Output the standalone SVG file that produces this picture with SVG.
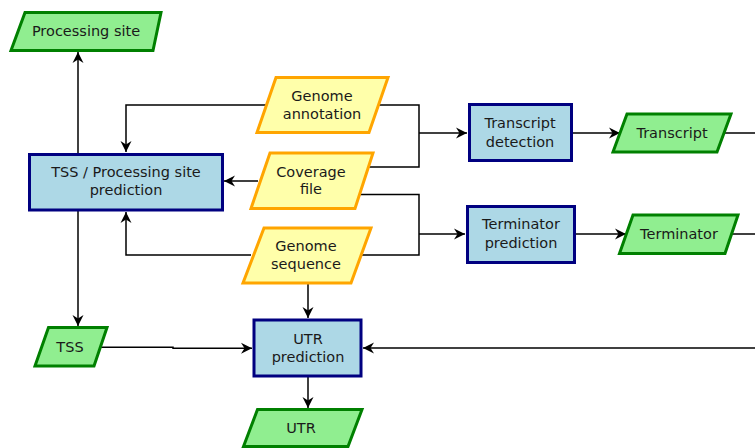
<svg xmlns="http://www.w3.org/2000/svg" width="755" height="448" viewBox="0 0 755 448">
<style>
  .proc { fill: #ADD8E6; stroke: #000080; stroke-width: 3; }
  .out { fill: #90EE90; stroke: #008000; stroke-width: 3; stroke-linejoin: miter; }
  .in { fill: #FFFFAA; stroke: #FFA500; stroke-width: 3; stroke-linejoin: miter; }
  text { font-family: "DejaVu Sans", Verdana, sans-serif; font-size: 14.5px; fill: #1a1a1a; text-anchor: middle; }
  .edge { fill: none; stroke: #000; stroke-width: 1.5; }
</style>
<defs>
  <marker id="arr" markerUnits="userSpaceOnUse" markerWidth="12" markerHeight="12" refX="11" refY="6" orient="auto">
    <path d="M0,0.5 L11,6 L0,11.5 L3.5,6 z" fill="#000"/>
  </marker>
</defs>
<rect width="755" height="448" fill="#fff"/>
<g id="connectors">
  <path class="edge" d="M78,154 V52" marker-end="url(#arr)"/>
  <path class="edge" d="M266,105 H126 V152" marker-end="url(#arr)"/>
  <path class="edge" d="M258,181 H224" marker-end="url(#arr)"/>
  <path class="edge" d="M251,255 H126 V212" marker-end="url(#arr)"/>
  <path class="edge" d="M378,105 H419 V167 H368"/>
  <path class="edge" d="M419,133 H467" marker-end="url(#arr)"/>
  <path class="edge" d="M358,194.5 H419 V255 H361"/>
  <path class="edge" d="M419,234 H465" marker-end="url(#arr)"/>
  <path class="edge" d="M572,133 H620" marker-end="url(#arr)"/>
  <path class="edge" d="M575,234 H626" marker-end="url(#arr)"/>
  <path class="edge" d="M724,133 H755"/>
  <path class="edge" d="M732,234 H755"/>
  <path class="edge" d="M755,348 H363" marker-end="url(#arr)"/>
  <path class="edge" d="M78,210 V326" marker-end="url(#arr)"/>
  <path class="edge" d="M101,347.3 H173 V348.3 H252" marker-end="url(#arr)"/>
  <path class="edge" d="M308,283 V318" marker-end="url(#arr)"/>
  <path class="edge" d="M308,376 V408" marker-end="url(#arr)"/>
</g>
<g id="processing-site">
  <polygon class="out" points="25,12.5 161,12.5 153,50.5 11,50.5"/>
  <text x="86" y="36">Processing site</text>
</g>
<g id="genome-annotation">
  <polygon class="in" points="276,77.5 388,77.5 369,132.5 257,132.5"/>
  <text x="322" y="101">Genome</text>
  <text x="322" y="119">annotation</text>
</g>
<g id="coverage-file">
  <polygon class="in" points="270,153 373,153 355,208.5 251,208.5"/>
  <text x="311" y="177">Coverage</text>
  <text x="311" y="194">file</text>
</g>
<g id="genome-sequence">
  <polygon class="in" points="264,228 371,228 351,283 243,283"/>
  <text x="306" y="251">Genome</text>
  <text x="306" y="269">sequence</text>
</g>
<g id="tss-processing-prediction">
  <rect class="proc" x="29.5" y="154.5" width="193" height="55.5"/>
  <text x="126" y="177">TSS / Processing site</text>
  <text x="126" y="195">prediction</text>
</g>
<g id="transcript-detection">
  <rect class="proc" x="469.5" y="104.5" width="102" height="56"/>
  <text x="520" y="128">Transcript</text>
  <text x="520" y="147">detection</text>
</g>
<g id="terminator-prediction">
  <rect class="proc" x="467.5" y="206.5" width="107" height="56"/>
  <text x="521" y="229">Terminator</text>
  <text x="521" y="248">prediction</text>
</g>
<g id="transcript">
  <polygon class="out" points="627,114 731,114 717,152 613,152"/>
  <text x="672" y="138">Transcript</text>
</g>
<g id="terminator">
  <polygon class="out" points="633,215 738,215 725,253.5 619.5,253.5"/>
  <text x="679" y="238.5">Terminator</text>
</g>
<g id="tss">
  <polygon class="out" points="48.5,327.5 107,327.5 94,366 35,366"/>
  <text x="70" y="352">TSS</text>
</g>
<g id="utr-prediction">
  <rect class="proc" x="254" y="320" width="107" height="56"/>
  <text x="308" y="344">UTR</text>
  <text x="308" y="362">prediction</text>
</g>
<g id="utr">
  <polygon class="out" points="257.5,409.5 362,409.5 348,446.5 243.5,446.5"/>
  <text x="301" y="433">UTR</text>
</g>
</svg>
